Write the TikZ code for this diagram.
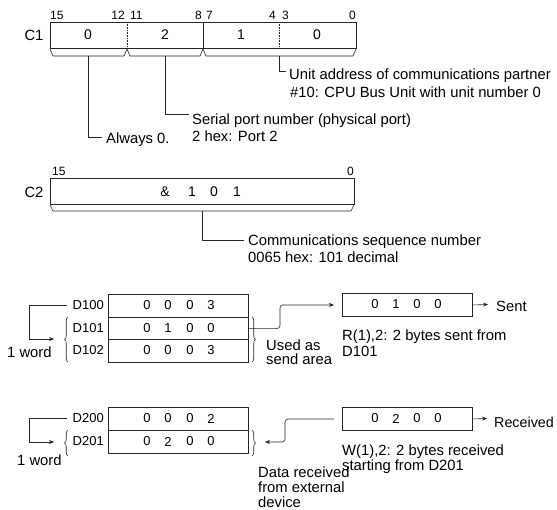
\documentclass[tikz,border=0pt]{standalone}
\usepackage{fontspec}
\setmainfont{Liberation Sans}
\usetikzlibrary{arrows.meta,decorations.pathreplacing}
\begin{document}
\begin{tikzpicture}[x=1pt,y=-1pt,
  every node/.style={inner sep=0pt, font=\fontsize{14.8}{17}\selectfont},
  txt/.style={anchor=base west},
  bit/.style={font=\fontsize{12}{14}\selectfont},
  val/.style={font=\fontsize{14}{16}\selectfont},
  tv/.style={font=\fontsize{13}{15}\selectfont},
  dl/.style={anchor=east, font=\fontsize{13}{15}\selectfont},
  regbox/.style={draw=black!85, line width=0.9pt, anchor=north west},
  rowbox/.style={draw=black!85, line width=1.1pt, anchor=north west, minimum width=140pt},
  lead/.style={draw=black!85, line width=0.6pt},
  arr/.style={lead, -{Stealth[length=5pt,width=4pt]}},
  brk/.style={draw=black!85, line width=0.6pt},
  cbrace/.style={brk, decorate, decoration={brace, amplitude=3.5pt}},
]
\useasboundingbox (0,0) rectangle (557,509);

% ---------------- C1 ----------------
\node[anchor=center] (c1lab) at (34,35) {C1};
\node[regbox, minimum width=306pt, minimum height=26pt] (c1) at (50,22) {};
\draw[lead, densely dotted] (127,22) -- (127,48);
\draw[regbox] (203,22) -- (203,48);
\draw[lead, densely dotted] (279,22) -- (279,48);
\node[bit, anchor=west] (b15) at (50,15) {15};
\node[bit, anchor=east] (b12) at (125,15) {12};
\node[bit, anchor=west] (b11) at (130,15) {11};
\node[bit, anchor=east] (b8) at (202,15) {8};
\node[bit, anchor=west] (b7) at (206,15) {7};
\node[bit, anchor=east] (b4) at (276,15) {4};
\node[bit, anchor=west] (b3) at (282,15) {3};
\node[bit, anchor=east] (b0) at (356,15) {0};
\node[val] (v1) at (88,35) {0};
\node[val] (v2) at (165,35) {2};
\node[val] (v3) at (241,35) {1};
\node[val] (v4) at (317,35) {0};
\draw[brk] (50,49) -- (53,56) -- (124,56) -- (127,49) -- (130,56) -- (200,56)
  -- (203,49) -- (206,56) -- (353,56) -- (356,49);

\coordinate (k1) at (88,56);
\coordinate (k2) at (165,56);
\coordinate (k3) at (279,56);
\coordinate (e1) at (102,137);
\coordinate (e2) at (189,114);
\coordinate (e3) at (286,71);
\draw[lead] (k1) |- (e1);
\draw[lead] (k2) |- (e2);
\draw[lead] (k3) |- (e3);
\node[txt] (always) at (106,143) {Always 0.};
\node[txt] (serial) at (192,124) {Serial port number (physical port)};
\node[txt] (serial2) at (192,141) {2 hex: Port 2};
\node[txt] (unit) at (289,79) {Unit address of communications partner};
\node[txt] (unit2) at (290,97) {\#10: CPU Bus Unit with unit number 0};

% ---------------- C2 ----------------
\node[anchor=center] (c2lab) at (34,192) {C2};
\node[regbox, minimum width=304pt, minimum height=26pt] (c2) at (50,178) {};
\node[bit, anchor=west] (c15) at (52,171) {15};
\node[bit, anchor=east] (c0) at (354,171) {0};
\node[val] (amp) at (165,192) {\&};
\node[val] (n1) at (192,192) {1};
\node[val] (n2) at (214,192) {0};
\node[val] (n3) at (237,192) {1};
\draw[brk] (50,205) -- (53,211) -- (351,211) -- (354,205);
\coordinate (k4) at (202,211);
\coordinate (e4) at (244,240);
\draw[lead] (k4) |- (e4);
\node[txt] (seq) at (248,245) {Communications sequence number};
\node[txt] (seq2) at (248,262) {0065 hex: 101 decimal};

% ---------------- send table ----------------
\node[rowbox, minimum height=22.67pt] (r100) at (108,294) {};
\node[rowbox, minimum height=22.67pt] (r101) at (108,316.67) {};
\node[rowbox, minimum height=22.67pt] (r102) at (108,339.33) {};
\foreach \y/\a/\b/\c/\d in {305.5/0/0/0/3, 328/0/1/0/0, 350.5/0/0/0/3}{
  \node[tv] at (147,\y) {\a};
  \node[tv] at (168,\y) {\b};
  \node[tv] at (190,\y) {\c};
  \node[tv] at (211,\y) {\d};
}
\node[dl] (d100) at (104,305.5) {D100};
\node[dl] (d101) at (104,328) {D101};
\node[dl] (d102) at (104,350.5) {D102};
\coordinate (w1a) at (29,305.5);
\coordinate (w1b) at (54,339);
\draw[arr] ([xshift=-6pt]d100.west) -- (w1a) |- (w1b);
\draw[cbrace] (68,362) -- (68,317);
\node[txt] (word1) at (7,357) {1 word};
\draw[cbrace] (252,317) -- (252,362);
\node[txt] (used) at (266,350) {Used as};
\node[txt] (used2) at (266,364) {send area};

\node[regbox, minimum width=130pt, minimum height=23pt] (sbox) at (342,293) {};
\foreach \x/\v in {375/0, 396/1, 417/0, 438/0}{
  \node[tv] at (\x,304.5) {\v};
}
\coordinate (s1) at (280,0);
\draw[arr, rounded corners=3pt] (r101.east) -- (r101.east -| s1) |- ([xshift=-8pt]sbox.west);
\coordinate (sentend) at (488,304.5);
\draw[arr] (sbox.east) -- (sentend);
\node[txt] (sent) at (496,311) {Sent};
\node[txt] (rtxt) at (342,340) {R(1),2: 2 bytes sent from};
\node[txt] (rtxt2) at (342,356) {D101};

% ---------------- receive table ----------------
\node[rowbox, minimum height=23pt] (r200) at (108,407) {};
\node[rowbox, minimum height=23pt] (r201) at (108,430) {};
\foreach \y/\a/\b/\c/\d in {418.5/0/0/0/2, 441.5/0/2/0/0}{
  \node[tv] at (147,\y) {\a};
  \node[tv] at (168,\y) {\b};
  \node[tv] at (190,\y) {\c};
  \node[tv] at (211,\y) {\d};
}
\node[dl] (d200) at (104,418.5) {D200};
\node[dl] (d201) at (104,441.5) {D201};
\coordinate (w2a) at (29,418.5);
\coordinate (w2b) at (54,442);
\draw[arr] ([xshift=-6pt]d200.west) -- (w2a) |- (w2b);
\draw[cbrace] (68,456) -- (68,430);
\node[txt] (word2) at (17,465) {1 word};
\draw[cbrace] (252,430) -- (252,456);
\node[txt] (data1) at (258,477) {Data received};
\node[txt] (data2) at (258,492) {from external};
\node[txt] (data3) at (258,507) {device};

\node[regbox, minimum width=130pt, minimum height=23pt] (rbox) at (342,407) {};
\foreach \x/\v in {375/0, 396/2, 417/0, 438/0}{
  \node[tv] at (\x,418.5) {\v};
}
\coordinate (s2) at (285,442);
\coordinate (rtip) at (265,442);
\draw[arr, rounded corners=3pt] ([xshift=-8pt]rbox.west) -| (s2) -- (rtip);
\coordinate (recend) at (487,418.5);
\draw[arr] (rbox.east) -- (recend);
\node[txt, font=\fontsize{14.3}{17}\selectfont] (rec) at (494,427) {Received};
\node[txt] (wtxt) at (342,455) {W(1),2: 2 bytes received};
\node[txt] (wtxt2) at (342,470) {starting from D201};
\end{tikzpicture}
\end{document}
